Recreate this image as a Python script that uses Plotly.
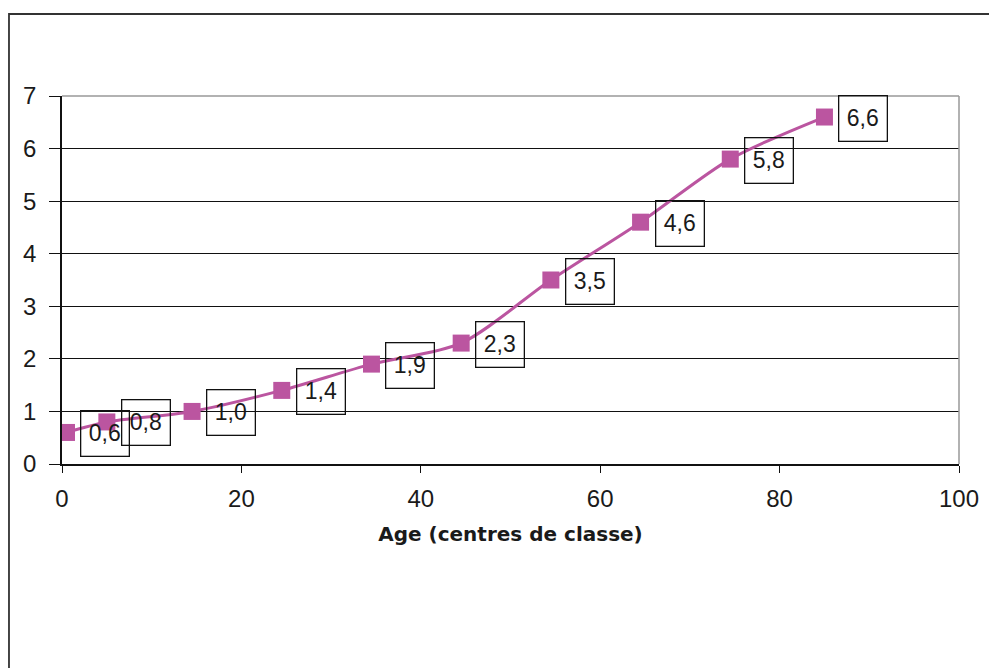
import plotly.graph_objects as go

ages = [0.5, 5, 14.5, 24.5, 34.5, 44.5, 54.5, 64.5, 74.5, 85]
values = [0.6, 0.8, 1.0, 1.4, 1.9, 2.3, 3.5, 4.6, 5.8, 6.6]
labels = ["0,6", "0,8", "1,0", "1,4", "1,9", "2,3", "3,5", "4,6", "5,8", "6,6"]
x_ticks = [0, 20, 40, 60, 80, 100]
y_ticks = [0, 1, 2, 3, 4, 5, 6, 7]
x_title = "Age (centres de classe)"

FONT = "Liberation Sans"

fig = go.Figure()
fig.add_trace(go.Scatter(
    x=ages, y=values, mode="lines+markers",
    line=dict(color="#BB55A0", width=3, shape="spline", smoothing=0.8),
    marker=dict(symbol="square", size=17, color="#BB55A0"),
    showlegend=False, hoverinfo="skip",
))

annotations = []
for xv, yv, t in zip(ages, values, labels):
    annotations.append(dict(
        x=xv, y=yv, xref="x", yref="y", text=t, showarrow=False,
        xshift=39, yshift=-1, xanchor="center", yanchor="middle",
        width=45, height=42, borderpad=1,
        bordercolor="#111", borderwidth=1.3, bgcolor="rgba(0,0,0,0)",
        font=dict(family=FONT, size=23, color="#1a1a1a"),
    ))

shapes = [
    # grey top and right plot-area border
    dict(type="line", xref="paper", yref="paper", x0=0, x1=1, y0=1, y1=1,
         line=dict(color="#999", width=1.5), layer="above"),
    dict(type="line", xref="paper", yref="paper", x0=1, x1=1, y0=0, y1=1,
         line=dict(color="#999", width=1.5), layer="above"),
    # outer frame
    dict(type="rect", xref="paper", yref="paper", x0=-0.0591, x1=1.2,
         y0=-0.7, y1=1.2228, line=dict(color="#333", width=1.8), layer="below"),
]

fig.update_layout(
    width=997, height=668,
    margin=dict(l=54, r=46, t=88, b=212),
    paper_bgcolor="white", plot_bgcolor="white",
    annotations=annotations, shapes=shapes,
    font=dict(family=FONT, color="#1a1a1a"),
    xaxis=dict(
        range=[0, 100], tickvals=x_ticks, ticktext=[str(v) for v in x_ticks],
        showgrid=False, zeroline=False, showline=True, linecolor="#111", linewidth=1.5,
        ticks="outside", ticklen=7, tickcolor="#111", tickwidth=1.3,
        ticklabelstandoff=5,
        tickfont=dict(family=FONT, size=24, color="#1a1a1a"),
        title=dict(text="<b>" + x_title + "</b>", standoff=16,
                   font=dict(family="DejaVu Sans", size=20, color="#1a1a1a")),
    ),
    yaxis=dict(
        range=[0, 7], tickvals=y_ticks, ticktext=[str(v) for v in y_ticks],
        showgrid=True, gridcolor="#111", gridwidth=1.3,
        zeroline=False, showline=True, linecolor="#111", linewidth=1.5,
        ticks="outside", ticklen=11, tickcolor="#111", tickwidth=1.3,
        ticklabelstandoff=8,
        tickfont=dict(family=FONT, size=24, color="#1a1a1a"),
    ),
)

fig.write_html("out.html")
